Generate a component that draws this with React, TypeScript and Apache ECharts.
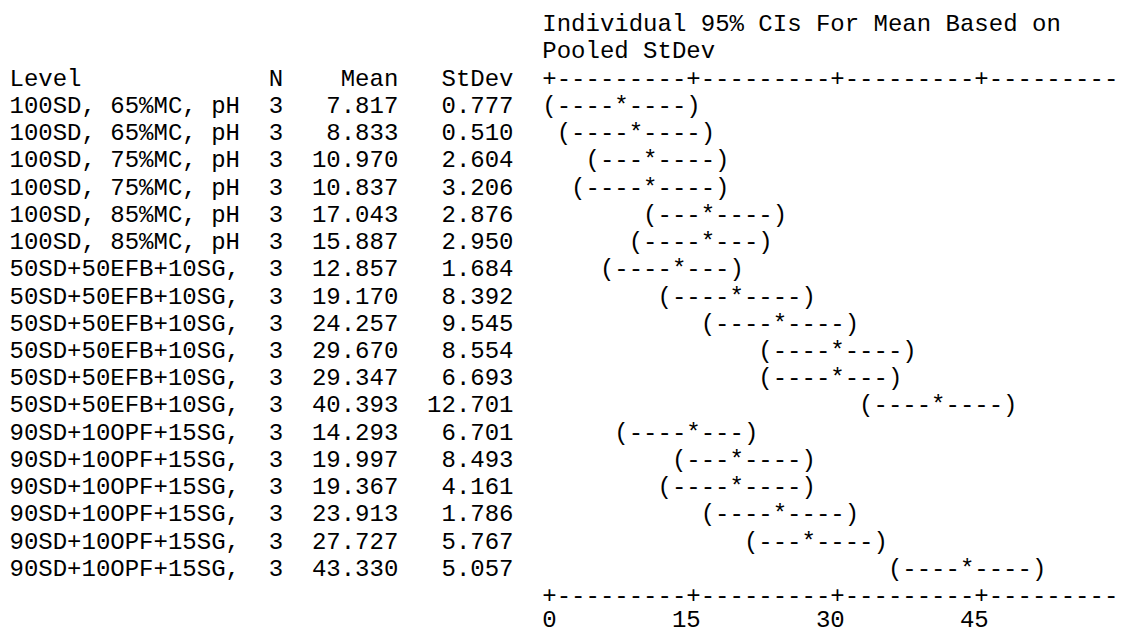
import React, { useEffect, useRef } from "react";
import * as echarts from "echarts";

// ---- data ----
const levels = [
  "100SD, 65%MC, pH",
  "100SD, 65%MC, pH",
  "100SD, 75%MC, pH",
  "100SD, 75%MC, pH",
  "100SD, 85%MC, pH",
  "100SD, 85%MC, pH",
  "50SD+50EFB+10SG,",
  "50SD+50EFB+10SG,",
  "50SD+50EFB+10SG,",
  "50SD+50EFB+10SG,",
  "50SD+50EFB+10SG,",
  "50SD+50EFB+10SG,",
  "90SD+10OPF+15SG,",
  "90SD+10OPF+15SG,",
  "90SD+10OPF+15SG,",
  "90SD+10OPF+15SG,",
  "90SD+10OPF+15SG,",
  "90SD+10OPF+15SG,",
];
const nValues = [3, 3, 3, 3, 3, 3, 3, 3, 3, 3, 3, 3, 3, 3, 3, 3, 3, 3];
const means = [
  7.817, 8.833, 10.97, 10.837, 17.043, 15.887, 12.857, 19.17, 24.257, 29.67,
  29.347, 40.393, 14.293, 19.997, 19.367, 23.913, 27.727, 43.33,
];
const stdevs = [
  0.777, 0.51, 2.604, 3.206, 2.876, 2.95, 1.684, 8.392, 9.545, 8.554, 6.693,
  12.701, 6.701, 8.493, 4.161, 1.786, 5.767, 5.057,
];
const ciMarks = [
  "(----*----)",
  "(----*----)",
  "(---*----)",
  "(----*----)",
  "(---*----)",
  "(----*---)",
  "(----*---)",
  "(----*----)",
  "(----*----)",
  "(----*----)",
  "(----*---)",
  "(----*----)",
  "(----*---)",
  "(---*----)",
  "(----*----)",
  "(----*----)",
  "(---*----)",
  "(----*----)",
];
const tickValues = [0, 15, 30, 45];
const tickLabels = ["0", "15", "30", "45"];
const titleLines = ["Individual 95% CIs For Mean Based on", "Pooled StDev"];
const headerLabels = ["Level", "N", "Mean", "StDev"];

// ---- layout (character grid) ----
const W = 1123;
const H = 633;
const FONT = '24px "Liberation Mono", "Courier New", monospace';
const X0 = 9.5; // left edge of column 0
const CW = 14.4; // character advance
const LINE0 = 24.6; // middle of text line 0
const LH = 27.24; // line pitch
const LAST_LINE = 22;
const AXIS_COL0 = 37; // column of value 0
const AXIS_COL_END = 76; // last column of the rule
const UNITS_PER_COL = 1.5;
const AXIS_MAX = (AXIS_COL_END - AXIS_COL0) * UNITS_PER_COL;
const ROW_LINE0 = 3;
const HEADER_LINE = 2;
const RULE_BOTTOM_LINE = 21;
const LABEL_LINE = 21.86;
const COL_N = 18;
const COL_MEAN_END = 27;
const COL_SD_END = 35;

const colX = (c: number) => X0 + c * CW;

function txt(text: string, x: number, y: number, align: string = "left") {
  return {
    type: "text",
    style: {
      text,
      x,
      y,
      font: FONT,
      fill: "#000",
      lineHeight: 16,
      align,
      verticalAlign: "middle",
      textAlign: align,
      textVerticalAlign: "middle",
    },
  };
}

export default function App() {
  const ref = useRef<HTMLDivElement>(null);

  useEffect(() => {
    if (!ref.current) return;
    const chart = echarts.init(ref.current, undefined, { renderer: "svg" });

    const colOf = (px: number) => Math.round((px - X0) / CW - 0.5);

    const option: any = {
      animation: false,
      backgroundColor: "#fff",
      grid: {
        left: X0 + (AXIS_COL0 + 0.5) * CW,
        right: W - (X0 + (AXIS_COL_END + 0.5) * CW),
        top: LINE0,
        bottom: H - (LINE0 + LAST_LINE * LH),
        containLabel: false,
      },
      xAxis: {
        type: "value",
        min: 0,
        max: AXIS_MAX,
        interval: 15,
        show: false,
        splitLine: { show: false },
      },
      yAxis: {
        type: "value",
        min: 0,
        max: LAST_LINE,
        inverse: true,
        show: false,
        splitLine: { show: false },
      },
      series: [
        {
          // table: titles, header and rows
          type: "custom",
          clip: false,
          silent: true,
          data: levels.map((_, i) => [0, ROW_LINE0 + i]),
          renderItem: (params: any, api: any) => {
            const i = params.dataIndex;
            const y = api.coord([0, api.value(1)])[1];
            const children: any[] = [
              txt(levels[i], colX(0), y),
              txt(String(nValues[i]), colX(COL_N), y),
              txt(means[i].toFixed(3), colX(COL_MEAN_END), y, "right"),
              txt(stdevs[i].toFixed(3), colX(COL_SD_END), y, "right"),
            ];
            if (i === 0) {
              const yt0 = api.coord([0, 0])[1];
              const yt1 = api.coord([0, 1])[1];
              const yh = api.coord([0, HEADER_LINE])[1];
              children.push(txt(titleLines[0], colX(AXIS_COL0), yt0));
              children.push(txt(titleLines[1], colX(AXIS_COL0), yt1));
              children.push(txt(headerLabels[0], colX(0), yh));
              children.push(txt(headerLabels[1], colX(COL_N), yh));
              children.push(txt(headerLabels[2], colX(COL_MEAN_END), yh, "right"));
              children.push(txt(headerLabels[3], colX(COL_SD_END), yh, "right"));
            }
            return { type: "group", children };
          },
        },
        {
          // confidence interval marks
          type: "custom",
          clip: false,
          silent: true,
          data: means.map((m, i) => [m, ROW_LINE0 + i]),
          renderItem: (params: any, api: any) => {
            const i = params.dataIndex;
            const p = api.coord([api.value(0), api.value(1)]);
            const col = colOf(p[0]);
            const mark = ciMarks[i];
            const star = mark.indexOf("*");
            return txt(mark, colX(col - star), p[1]);
          },
        },
        {
          // axis rules and tick labels
          type: "custom",
          clip: false,
          silent: true,
          data: tickValues.map((v) => [v, LABEL_LINE]),
          renderItem: (params: any, api: any) => {
            const k = params.dataIndex;
            const v = api.value(0);
            const p = api.coord([v, LABEL_LINE]);
            const col = colOf(p[0]);
            const nextPx =
              k < tickValues.length - 1
                ? api.coord([tickValues[k + 1], 0])[0]
                : api.coord([AXIS_MAX, 0])[0];
            const nextCol = colOf(nextPx) + (k < tickValues.length - 1 ? 0 : 1);
            const seg = "+" + "-".repeat(Math.max(0, nextCol - col - 1));
            const yTop = api.coord([v, HEADER_LINE])[1];
            const yBot = api.coord([v, RULE_BOTTOM_LINE])[1];
            return {
              type: "group",
              children: [
                txt(seg, colX(col), yTop),
                txt(seg, colX(col), yBot),
                txt(tickLabels[k], colX(col + 1), p[1], "right"),
              ],
            };
          },
        },
      ],
    };

    chart.setOption(option);
    return () => chart.dispose();
  }, []);

  return (
    <div
      ref={ref}
      style={{
        position: "fixed",
        left: 0,
        top: 0,
        width: W + "px",
        height: H + "px",
        background: "#fff",
      }}
    />
  );
}
